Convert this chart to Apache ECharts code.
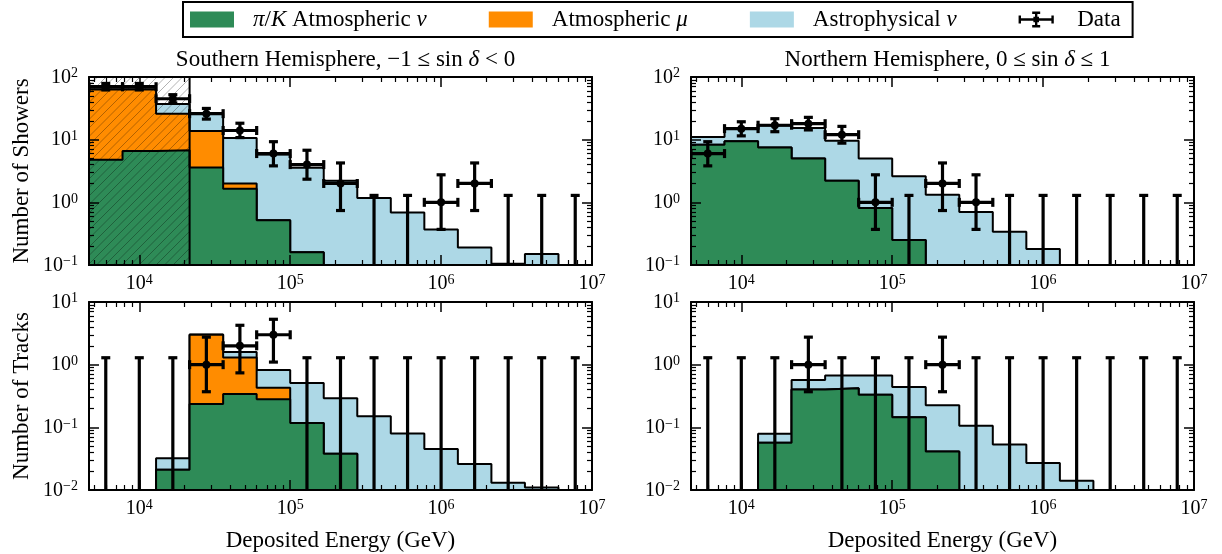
<!DOCTYPE html>
<html>
<head>
<meta charset="utf-8">
<script src="https://cdn.jsdelivr.net/npm/echarts@6.0.0/dist/echarts.min.js"></script>
<style>
html,body{margin:0;padding:0;background:#fff;}
#chart{width:1222px;height:554px;}
</style>
</head>
<body>
<div id="chart"></div>
<script>
// ---------------- data ----------------
const binEdges = [4641.6, 7742.6, 12915.5, 21544.3, 35938.1, 59948.4, 100000, 166810.1,
                  278255.9, 464158.9, 774263.7, 1291549.7, 2154434.7, 3593813.7, 5994842.5, 10000000];
const hatchMaxEnergy = 21544.3;
const xMajorTicks = [1e4, 1e5, 1e6, 1e7];
const yMajorShowers = [0.1, 1, 10, 100];
const yMajorTracks = [0.01, 0.1, 1, 10];
const minorMultipliers = [2, 3, 4, 5, 6, 7, 8, 9];

const southShowersPiK   = [4.8, 6.6, 6.8, 3.6, 1.65, 0.52, 0.16, 0, 0, 0, 0, 0, 0, 0, 0];
const southShowersMuon  = [58.2, 56.4, 19.2, 10.2, 0.35, 0, 0, 0, 0, 0, 0, 0, 0, 0, 0];
const southShowersAstro = [0.8, 0.8, 11, 12.7, 8.6, 5.3, 3.4, 2.2, 1.17, 0.69, 0.37, 0.19, 0.105, 0.15, 0];
const southShowersData  = [70, 70, 45, 26, 14, 6, 4, 2, 0, 0, 1, 2, 0, 0, 0];

const northShowersPiK   = [8.3, 9.4, 7.5, 5.0, 2.2, 0.81, 0.25, 0, 0, 0, 0, 0, 0, 0, 0];
const northShowersMuon  = [0, 0, 0, 0, 0, 0, 0, 0, 0, 0, 0, 0, 0, 0, 0];
const northShowersAstro = [2.7, 6.0, 9.3, 10.4, 7.4, 4.2, 2.35, 1.32, 0.70, 0.34, 0.18, 0, 0, 0, 0];
const northShowersData  = [6, 15, 17, 18, 12, 1, 0, 2, 1, 0, 0, 0, 0, 0, 0];

const southTracksPiK   = [0, 0, 0.021, 0.236, 0.34, 0.28, 0.117, 0.038, 0, 0, 0, 0, 0, 0, 0];
const southTracksMuon  = [0, 0, 0, 2.76, 0.96, 0.15, 0, 0, 0, 0, 0, 0, 0, 0, 0];
const southTracksAstro = [0, 0, 0.011, 0.03, 0.3, 0.39, 0.393, 0.252, 0.15, 0.08, 0.045, 0.026, 0.013, 0.011, 0];
const southTracksData  = [0, 0, 0, 1, 2, 3, 0, 0, 0, 0, 0, 0, 0, 0, 0];

const northTracksPiK   = [0, 0, 0.057, 0.40, 0.42, 0.33, 0.145, 0.041, 0, 0, 0, 0, 0, 0, 0];
const northTracksMuon  = [0, 0, 0, 0, 0, 0, 0, 0, 0, 0, 0, 0, 0, 0, 0];
const northTracksAstro = [0, 0, 0.022, 0.17, 0.25, 0.34, 0.295, 0.184, 0.106, 0.053, 0.027, 0.014, 0, 0, 0];
const northTracksData  = [0, 0, 0, 1, 0, 0, 0, 1, 0, 0, 0, 0, 0, 0, 0];

// 68% confidence intervals for observed counts
const fcCounts = [0, 1, 2, 3, 4, 6, 12, 14, 15, 17, 18, 26, 45, 70];
const fcLower  = [0, 0.37, 0.74, 1.10, 2.34, 3.82, 8.8, 10.8, 11.5, 13.4, 14.3, 21.3, 38.6, 62.1];
const fcUpper  = [1.29, 2.75, 4.25, 5.30, 6.78, 9.28, 16.3, 18.3, 19.3, 21.6, 22.7, 31.5, 52.2, 78.9];

const legendNames = ['π/K Atmospheric ν', 'Atmospheric μ', 'Astrophysical ν', 'Data'];

// ---------------- styling ----------------
const FONT = '"Liberation Serif", "Times New Roman", serif';
const GREEN = '#2E8B57', ORANGE = '#FF8C00', BLUE = '#ADD8E6';
const L = Math.log10;
const LOW = -6;

const tickRich = {
  b: {fontFamily: FONT, fontSize: 20, color: '#000', lineHeight: 21, padding: [3, 0, 0, 0], verticalAlign: 'bottom'},
  s: {fontFamily: FONT, fontSize: 14, color: '#000', lineHeight: 15, verticalAlign: 'top'}
};
function powLabel(v) {
  const e = Math.round(v);
  return '{b|10}{s|' + (e < 0 ? '\u2212' + (-e) : e) + '}';
}
function minorTicks(minLog, maxLog) {
  const out = [];
  for (let d = Math.floor(minLog); d < Math.ceil(maxLog); d++) {
    for (const m of minorMultipliers) {
      const v = d + L(m);
      if (v > minLog + 1e-9 && v < maxLog - 1e-9) out.push(v);
    }
  }
  return out;
}

const xMin = L(binEdges[0]), xMax = L(binEdges[binEdges.length - 1]);

function axisSet(dim, gi, min, max, majors, extra) {
  const base = {type: 'value', gridIndex: gi, min: min, max: max, splitLine: {show: false}, z: 10, silent: true};
  const posA = dim === 'x' ? 'bottom' : 'left';
  const posB = dim === 'x' ? 'top' : 'right';
  const majorVals = majors.map(L);
  const minorVals = minorTicks(min, max);
  const majorTick = {show: true, inside: true, length: 10, lineStyle: {color: '#000', width: 1.5}, customValues: majorVals};
  const minorTick = {show: true, inside: true, length: 5, lineStyle: {color: '#000', width: 1.2}, customValues: minorVals};
  const line = {show: true, onZero: false, lineStyle: {color: '#000', width: 2}};
  const noLine = {show: false, onZero: false};
  return [
    Object.assign({}, base, {position: posA, axisLine: line, axisTick: majorTick,
      axisLabel: {show: true, customValues: majorVals, formatter: powLabel, rich: tickRich, margin: dim === 'x' ? 8 : 11}}, extra || {}),
    Object.assign({}, base, {position: posA, axisLine: noLine, axisTick: minorTick, axisLabel: {show: false}}),
    Object.assign({}, base, {position: posB, axisLine: line, axisTick: majorTick, axisLabel: {show: false}}),
    Object.assign({}, base, {position: posB, axisLine: noLine, axisTick: minorTick, axisLabel: {show: false}})
  ];
}

function stepPoints(values) {
  const pts = [[L(binEdges[0]), LOW]];
  values.forEach((v, i) => pts.push([L(binEdges[i]), v > 0 ? L(v) : LOW]));
  const last = values[values.length - 1];
  pts.push([L(binEdges[values.length]), last > 0 ? L(last) : LOW]);
  pts.push([L(binEdges[values.length]), LOW]);
  return pts;
}

function fcIndex(n) { return fcCounts.indexOf(n); }

function errorData(counts) {
  return counts.map((n, i) => {
    const k = fcIndex(n);
    const xc = (L(binEdges[i]) + L(binEdges[i + 1])) / 2;
    return [xc, n > 0 ? L(n) : null, L(binEdges[i]), L(binEdges[i + 1]),
            n > 0 ? L(fcLower[k]) : null, L(fcUpper[k]), n];
  });
}

function seg(x1, y1, x2, y2, w) {
  return {type: 'line', shape: {x1: x1, y1: y1, x2: x2, y2: y2}, style: {stroke: '#000', lineWidth: w || 3.2}};
}

function errRenderer(yMinLog) {
  return function (params, api) {
    const n = api.value(6);
    const xc = api.value(0), x0 = api.value(2), x1 = api.value(3), yhi = api.value(5);
    const cap = 4.5;
    const ch = [];
    const top = api.coord([xc, yhi]);
    if (n > 0) {
      const y = api.value(1), ylo = api.value(4);
      const p = api.coord([xc, y]);
      const pl = api.coord([x0, y]), pr = api.coord([x1, y]);
      const bot = api.coord([xc, ylo]);
      ch.push(seg(pl[0], p[1], pr[0], p[1]));
      ch.push(seg(pl[0], p[1] - cap, pl[0], p[1] + cap));
      ch.push(seg(pr[0], p[1] - cap, pr[0], p[1] + cap));
      ch.push(seg(p[0], bot[1], p[0], top[1]));
      ch.push(seg(p[0] - cap, bot[1], p[0] + cap, bot[1]));
      ch.push(seg(p[0] - cap, top[1], p[0] + cap, top[1]));
      ch.push({type: 'circle', shape: {cx: p[0], cy: p[1], r: 4}, style: {fill: '#000'}});
    } else {
      const bot = api.coord([xc, yMinLog - 1]);
      ch.push(seg(top[0], bot[1], top[0], top[1]));
      ch.push(seg(top[0] - cap, top[1], top[0] + cap, top[1]));
    }
    return {type: 'group', children: ch};
  };
}

function hatchRenderer(yMinLog, yMaxLog) {
  return function (params, api) {
    const p0 = api.coord([api.value(0), yMaxLog]);
    const p1 = api.coord([api.value(1), yMinLog]);
    const x0 = p0[0], y0 = p0[1], x1 = p1[0], y1 = p1[1];
    const ch = [];
    const step = 8.5;
    for (let c = x0 + y0; c <= x1 + y1 + step; c += step) {
      const xa = Math.max(x0, c - y1), xb = Math.min(x1, c - y0);
      if (xa < xb) ch.push({type: 'line', shape: {x1: xa, y1: c - xa, x2: xb, y2: c - xb},
                            style: {stroke: 'rgba(0,0,0,0.3)', lineWidth: 1}});
    }
    ch.push(seg(x1, y0, x1, y1, 2));
    return {type: 'group', children: ch};
  };
}

const panels = [
  {grid: {left: 89, top: 77, width: 503, height: 188}, yMajor: yMajorShowers,
   piK: southShowersPiK, muon: southShowersMuon, astro: southShowersAstro, data: southShowersData,
   hatch: true, yName: 'Number of Showers', xName: null},
  {grid: {left: 691, top: 77, width: 503, height: 188}, yMajor: yMajorShowers,
   piK: northShowersPiK, muon: northShowersMuon, astro: northShowersAstro, data: northShowersData,
   hatch: false, yName: null, xName: null},
  {grid: {left: 89, top: 302, width: 503, height: 188}, yMajor: yMajorTracks,
   piK: southTracksPiK, muon: southTracksMuon, astro: southTracksAstro, data: southTracksData,
   hatch: false, yName: 'Number of Tracks', xName: 'Deposited Energy (GeV)'},
  {grid: {left: 691, top: 302, width: 503, height: 188}, yMajor: yMajorTracks,
   piK: northTracksPiK, muon: northTracksMuon, astro: northTracksAstro, data: northTracksData,
   hatch: false, yName: null, xName: 'Deposited Energy (GeV)'}
];

const grids = [], xAxes = [], yAxes = [], series = [];
const nameStyle = {fontFamily: FONT, fontSize: 23, color: '#000', fontWeight: 'normal'};

panels.forEach((p, gi) => {
  grids.push(Object.assign({containLabel: false}, p.grid));
  const yMinLog = L(p.yMajor[0]), yMaxLog = L(p.yMajor[p.yMajor.length - 1]);
  const xExtra = p.xName ? {name: p.xName, nameLocation: 'middle', nameGap: 39, nameTextStyle: nameStyle} : {};
  const yExtra = p.yName ? {name: p.yName, nameLocation: 'middle', nameGap: 56, nameTextStyle: nameStyle} : {};
  xAxes.push.apply(xAxes, axisSet('x', gi, xMin, xMax, xMajorTicks, xExtra));
  yAxes.push.apply(yAxes, axisSet('y', gi, yMinLog, yMaxLog, p.yMajor, yExtra));
  const xi = gi * 4, yi = gi * 4;
  const total = p.piK.map((v, i) => v + p.muon[i] + p.astro[i]);
  const piKMuon = p.piK.map((v, i) => v + p.muon[i]);
  const layers = [
    {name: legendNames[2], vals: total, color: BLUE, z: 2},
    {name: legendNames[1], vals: piKMuon, color: ORANGE, z: 3},
    {name: legendNames[0], vals: p.piK, color: GREEN, z: 4}
  ];
  layers.forEach(l => {
    series.push({
      type: 'line', name: l.name, xAxisIndex: xi, yAxisIndex: yi, step: 'end',
      data: stepPoints(l.vals), showSymbol: false, symbol: 'none', color: l.color,
      lineStyle: {color: '#000', width: 2}, areaStyle: {color: l.color, opacity: 1, origin: 'start'},
      z: l.z, silent: true, animation: false, clip: true
    });
  });
  if (p.hatch) {
    series.push({
      type: 'custom', xAxisIndex: xi, yAxisIndex: yi, clip: true, z: 5, silent: true,
      data: [[L(binEdges[0]), L(hatchMaxEnergy)]],
      renderItem: hatchRenderer(yMinLog, yMaxLog)
    });
  }
  series.push({
    type: 'custom', name: legendNames[3], xAxisIndex: xi, yAxisIndex: yi, clip: true, z: 6, silent: true,
    data: errorData(p.data), renderItem: errRenderer(yMinLog), animation: false
  });
});

const textRich = {
  r: {fontFamily: FONT, fontSize: 23, color: '#000', fontWeight: 'normal'},
  i: {fontFamily: FONT, fontSize: 23, fontStyle: 'italic', color: '#000', fontWeight: 'normal'}
};
const legendLabels = {
  'π/K Atmospheric ν': '{i|π}{r|/}{i|K}{r| Atmospheric }{i|ν}',
  'Atmospheric μ': '{r|Atmospheric }{i|μ}',
  'Astrophysical ν': '{r|Astrophysical }{i|ν}',
  'Data': '{r|Data}'
};
const dataIcon = 'path://M0,8.5H44V11.5H0Z M0,5H3V15H0Z M41,5H44V15H41Z M20.5,0H23.5V20H20.5Z M17,0H27V3H17Z M17,17H27V20H17Z M18.5,6.5H25.5V13.5H18.5Z';

const option = {
  animation: false,
  backgroundColor: '#fff',
  title: [
    {text: '{r|Southern Hemisphere, \u22121 \u2264 sin }{i|\u03b4}{r| < 0}', left: 340.5, top: 43, textAlign: 'center',
     textStyle: {fontWeight: 'normal', rich: textRich}},
    {text: '{r|Northern Hemisphere, 0 \u2264 sin }{i|\u03b4}{r| \u2264 1}', left: 942.5, top: 43, textAlign: 'center',
     textStyle: {fontWeight: 'normal', rich: textRich}}
  ],
  legend: {
    left: 183, top: 2, orient: 'horizontal', itemWidth: 44, itemHeight: 16, itemGap: 62,
    borderColor: '#000', borderWidth: 2, borderRadius: 0, padding: [6, 12, 6, 7],
    selectedMode: false,
    data: [
      {name: legendNames[0], icon: 'rect', itemStyle: {color: GREEN, borderWidth: 0}},
      {name: legendNames[1], icon: 'rect', itemStyle: {color: ORANGE, borderWidth: 0}},
      {name: legendNames[2], icon: 'rect', itemStyle: {color: BLUE, borderWidth: 0}},
      {name: legendNames[3], icon: dataIcon, itemStyle: {color: '#000', borderWidth: 0}}
    ],
    formatter: name => legendLabels[name],
    textStyle: {fontFamily: FONT, fontSize: 23, color: '#000', padding: [0, 0, 0, 14], rich: textRich}
  },
  grid: grids,
  xAxis: xAxes,
  yAxis: yAxes,
  series: series
};

const chart = echarts.init(document.getElementById('chart'), null, {renderer: 'canvas'});
chart.setOption(option);
</script>
</body>
</html>
